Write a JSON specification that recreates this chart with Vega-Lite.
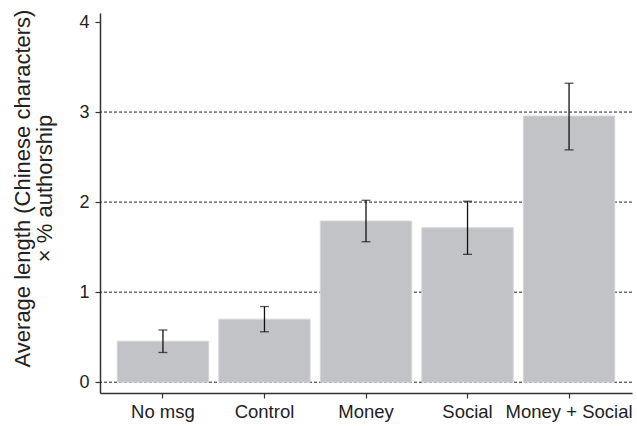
{
  "$schema": "https://vega.github.io/schema/vega-lite/v6.json",
  "width": 532,
  "height": 380,
  "autosize": {"type": "none"},
  "padding": {"left": 100, "top": 13, "right": 5, "bottom": 33},
  "background": "white",
  "config": {
    "view": {"stroke": null},
    "font": "Liberation Sans",
    "axis": {
      "labelFont": "Liberation Sans",
      "titleFont": "Liberation Sans",
      "labelColor": "#222",
      "titleColor": "#222",
      "domainColor": "#333",
      "tickColor": "#333",
      "domainWidth": 1.5,
      "tickWidth": 1.2,
      "tickSize": 5,
      "grid": false,
      "titleFontWeight": "normal"
    },
    "axisX": {"labelFontSize": 18.5, "labelPadding": 4, "labelAngle": 0},
    "axisY": {"labelFontSize": 18, "labelPadding": 6, "titleFontSize": 22, "titleLineHeight": 22, "titlePadding": 22, "titleY": 175}
  },
  "datasets": {
    "bars": [
      {"group": "No msg", "value": 0.455, "lo": 0.33, "hi": 0.58},
      {"group": "Control", "value": 0.70, "lo": 0.56, "hi": 0.84},
      {"group": "Money", "value": 1.79, "lo": 1.56, "hi": 2.02},
      {"group": "Social", "value": 1.715, "lo": 1.42, "hi": 2.01},
      {"group": "Money + Social", "value": 2.955, "lo": 2.58, "hi": 3.32}
    ],
    "grid": [{"g": 0}, {"g": 1}, {"g": 2}, {"g": 3}]
  },
  "layer": [
    {
      "data": {"name": "grid"},
      "mark": {"type": "rule", "color": "#222", "strokeWidth": 1, "strokeDash": [3, 2]},
      "encoding": {
        "y": {
          "field": "g", "type": "quantitative",
          "scale": {"domain": [-0.12, 4.1], "nice": false, "zero": false},
          "axis": {
            "values": [0, 1, 2, 3, 4],
            "format": "d",
            "title": ["Average length (Chinese characters)", "× % authorship"]
          }
        }
      }
    },
    {
      "data": {"name": "bars"},
      "layer": [
        {
          "mark": {"type": "bar", "fill": "#c2c3c7", "stroke": "#d6d6d8", "strokeWidth": 1},
          "encoding": {
            "x": {
              "field": "group", "type": "nominal", "sort": null,
              "scale": {"paddingInner": 0.1, "paddingOuter": 0.17},
              "axis": {"title": null}
            },
            "y": {"field": "value", "type": "quantitative"},
            "y2": {"datum": 0}
          }
        },
        {
          "mark": {"type": "rule", "color": "#111", "strokeWidth": 1.3},
          "encoding": {
            "x": {"field": "group", "type": "nominal", "sort": null},
            "y": {"field": "lo", "type": "quantitative"},
            "y2": {"field": "hi"}
          }
        },
        {
          "mark": {"type": "tick", "color": "#111", "thickness": 1.3, "size": 9, "orient": "horizontal"},
          "encoding": {
            "x": {"field": "group", "type": "nominal", "sort": null},
            "y": {"field": "lo", "type": "quantitative"}
          }
        },
        {
          "mark": {"type": "tick", "color": "#111", "thickness": 1.3, "size": 9, "orient": "horizontal"},
          "encoding": {
            "x": {"field": "group", "type": "nominal", "sort": null},
            "y": {"field": "hi", "type": "quantitative"}
          }
        }
      ]
    }
  ]
}
